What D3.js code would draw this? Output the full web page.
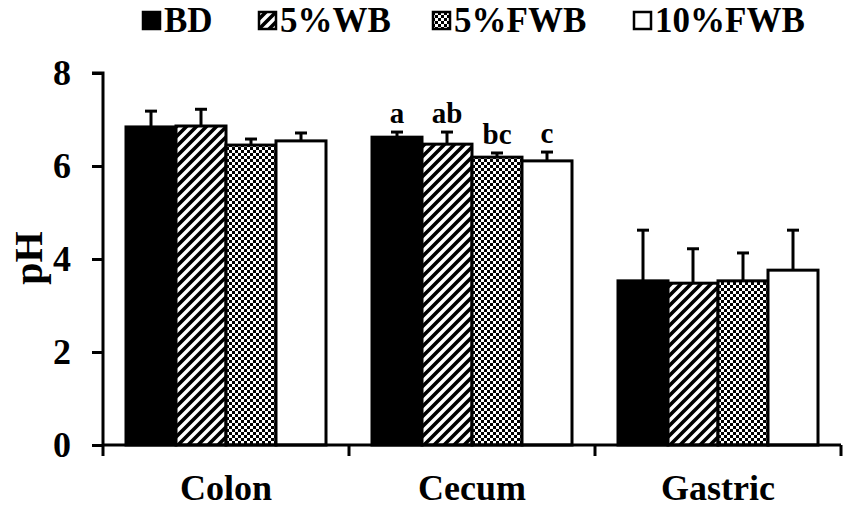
<!doctype html>
<html lang="en">
<head>
  <meta charset="utf-8">
  <title>pH by segment</title>
  <script src="https://cdnjs.cloudflare.com/ajax/libs/d3/7.8.5/d3.min.js"></script>
  <style>
    body { margin: 0; background: #fff; }
    text { font-family: "Times New Roman", "Liberation Serif", serif; font-weight: bold; fill: #000; }
  </style>
</head>
<body>
  <svg width="850" height="511" id="svg"></svg>
<script>
  // data
  var categories = ['Colon', 'Cecum', 'Gastric'];
  var groups = ['BD', '5%WB', '5%FWB', '10%FWB'];
  var means = [
    [6.84, 6.86, 6.45, 6.54],   // Colon
    [6.62, 6.47, 6.19, 6.11],   // Cecum
    [3.53, 3.48, 3.53, 3.76]    // Gastric
  ];
  var errors = [
    [0.34, 0.36, 0.13, 0.17],
    [0.11, 0.26, 0.09, 0.19],
    [1.09, 0.74, 0.60, 0.86]
  ];
  var letters = [
    ['', '', '', ''],
    ['a', 'ab', 'bc', 'c'],
    ['', '', '', '']
  ];
  var yTicks = [0, 2, 4, 6, 8];

  var svg = d3.select('#svg');
  var fills = ['#000', 'url(#hatch)', 'url(#checker)', '#fff'];

  // patterns
  var defs = svg.append('defs');
  var hatch = defs.append('pattern').attr('id', 'hatch')
    .attr('patternUnits', 'userSpaceOnUse').attr('width', 10).attr('height', 10);
  hatch.append('rect').attr('width', 10).attr('height', 10).attr('fill', '#fff');
  hatch.append('path').attr('d', 'M-3,3 l6,-6 M0,10 l10,-10 M7,13 l6,-6')
    .attr('stroke', '#000').attr('stroke-width', 3.6);
  var checker = defs.append('pattern').attr('id', 'checker')
    .attr('patternUnits', 'userSpaceOnUse').attr('width', 6).attr('height', 6);
  checker.append('rect').attr('width', 6).attr('height', 6).attr('fill', '#fff');
  checker.append('rect').attr('width', 3).attr('height', 3).attr('fill', '#000');
  checker.append('rect').attr('x', 3).attr('y', 3).attr('width', 3).attr('height', 3).attr('fill', '#000');

  var x0 = d3.scaleBand().domain(categories).range([103, 841]);
  var x1 = d3.scaleBand().domain(groups).range([23, 223]);
  var y = d3.scaleLinear().domain([0, 8]).range([445, 73]);

  // bars
  var cat = svg.selectAll('g.cat')
    .data(categories)
    .enter()
    .append('g')
    .attr('class', 'cat')
    .attr('transform', function(d) { return 'translate(' + x0(d) + ',0)'; });

  cat.each(function(c, ci) {
    var g = d3.select(this);
    groups.forEach(function(s, si) {
      var m = means[ci][si], e = errors[ci][si];
      var cx = x1(s) + x1.bandwidth() / 2;
      g.append('line')
        .attr('x1', cx).attr('x2', cx)
        .attr('y1', y(m)).attr('y2', y(m + e))
        .attr('stroke', '#000').attr('stroke-width', 3);
      g.append('line')
        .attr('x1', cx - 6).attr('x2', cx + 6)
        .attr('y1', y(m + e)).attr('y2', y(m + e))
        .attr('stroke', '#000').attr('stroke-width', 3);
      g.append('rect')
        .attr('x', x1(s))
        .attr('y', y(m))
        .attr('width', x1.bandwidth())
        .attr('height', y(0) - y(m))
        .attr('fill', fills[si])
        .attr('stroke', '#000')
        .attr('stroke-width', 3);
      if (letters[ci][si]) {
        g.append('text')
          .attr('x', cx)
          .attr('y', y(m + e) - 9)
          .attr('text-anchor', 'middle')
          .style('font-size', '29px')
          .text(letters[ci][si]);
      }
    });
  });

  // y axis
  var yAxis = svg.append('g')
    .attr('transform', 'translate(103,0)')
    .call(d3.axisLeft(y).tickValues(yTicks).tickSize(11).tickPadding(21));
  yAxis.select('.domain').attr('stroke-width', 3).attr('d', 'M0,' + y(0) + 'V' + y(8) + 'H-11');
  yAxis.selectAll('line').attr('stroke-width', 3);
  yAxis.selectAll('text').style('font-size', '36px').style('font-family', '"Times New Roman", "Liberation Serif", serif').attr('dy', '0.33em');

  // x axis
  var xAxis = svg.append('g')
    .attr('transform', 'translate(0,' + y(0) + ')')
    .call(d3.axisBottom(x0).tickSize(0).tickPadding(28));
  xAxis.select('.domain').attr('stroke-width', 3).attr('d', 'M103,0H841');
  xAxis.selectAll('text').style('font-size', '36px').style('font-family', '"Times New Roman", "Liberation Serif", serif').attr('dy', '0.75em');
  var bounds = [x0.range()[0]].concat(categories.map(function(c) { return x0(c) + x0.bandwidth(); }));
  xAxis.selectAll('line.sep')
    .data(bounds)
    .enter()
    .append('line')
    .attr('class', 'sep')
    .attr('x1', function(d) { return d; }).attr('x2', function(d) { return d; })
    .attr('y1', 0).attr('y2', 11)
    .attr('stroke', '#000').attr('stroke-width', 3);

  // y label
  svg.append('text')
    .attr('transform', 'translate(42,258) rotate(-90)')
    .attr('text-anchor', 'middle')
    .style('font-size', '40px')
    .text('pH');

  // legend
  var legendX = [142, 258, 432, 633];
  var legend = svg.selectAll('g.legend')
    .data(groups)
    .enter()
    .append('g')
    .attr('class', 'legend')
    .attr('transform', function(d, i) { return 'translate(' + legendX[i] + ',0)'; });
  legend.append('rect')
    .attr('x', 1).attr('y', 12).attr('width', 17).attr('height', 17)
    .attr('fill', function(d, i) { return fills[i]; })
    .attr('stroke', '#000').attr('stroke-width', 2.5);
  legend.append('text')
    .attr('x', 22).attr('y', 32)
    .style('font-size', '35px')
    .text(function(d) { return d; });
</script>
</body>
</html>
